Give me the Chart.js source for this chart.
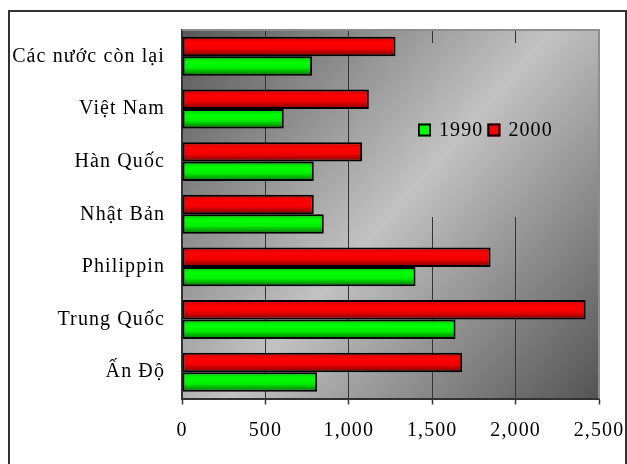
<!DOCTYPE html>
<html>
<head>
<meta charset="utf-8">
<script src="https://cdn.jsdelivr.net/npm/chart.js@4.4.1/dist/chart.umd.min.js"></script>
<style>
  html, body { margin: 0; padding: 0; background: #ffffff; }
  #wrap { width: 627px; height: 464px; position: relative; }
</style>
</head>
<body>
<div id="wrap"><canvas id="c" width="627" height="464"></canvas></div>
<script>
// Countries, listed from the top row to the bottom row
const categories = ['Các nước còn lại', 'Việt Nam', 'Hàn Quốc', 'Nhật Bản', 'Philippin', 'Trung Quốc', 'Ấn Độ'];
const values1990 = [780, 610, 790, 850, 1400, 1640, 810];
const values2000 = [1280, 1120, 1080, 790, 1850, 2420, 1680];
const seriesNames = ['1990', '2000'];
const xTicks = [0, 500, 1000, 1500, 2000, 2500];

const FONT = "'Liberation Serif', 'Times New Roman', serif";
const CAT_PCT = 0.74;

const RED_STOPS = [[0, '#c80000'], [0.3, '#ff0000'], [0.6, '#f40000'], [1, '#7a0000']];
const GREEN_STOPS = [[0, '#00c000'], [0.3, '#00ff00'], [0.6, '#00f000'], [1, '#006a00']];

// Vertical shading for each bar, aligned to that bar's own band
function barFill(stops) {
  return (c) => {
    const chart = c.chart;
    if (!chart.chartArea || c.type !== 'data') return stops[1][1];
    const y = chart.scales.y;
    const slot = (y.bottom - y.top) / categories.length;
    const band = slot * CAT_PCT;
    const barH = band / chart.data.datasets.length;
    const top = y.getPixelForValue(c.dataIndex) - band / 2 + c.datasetIndex * barH;
    const g = chart.ctx.createLinearGradient(0, top, 0, top + barH);
    stops.forEach(([o, col]) => g.addColorStop(o, col));
    return g;
  };
}

function plotGradient(ctx, a) {
  const g = ctx.createLinearGradient(a.left, a.top, a.right, a.bottom);
  g.addColorStop(0, '#575757');
  g.addColorStop(0.5, '#c2c2c2');
  g.addColorStop(1, '#545454');
  return g;
}

// Legend panel sits inside the plot, its fill hiding the grid lines behind it
const LEGEND_BOX = { x: 395, y: 43, w: 190, h: 174 };

const decor = {
  id: 'decor',
  beforeLayout(chart) { chart.ctx.letterSpacing = '1.1px'; },
  beforeDraw(chart) {
    const { ctx, chartArea: a } = chart;
    ctx.save();
    ctx.fillStyle = '#ffffff';
    ctx.fillRect(0, 0, chart.width, chart.height);
    ctx.fillStyle = plotGradient(ctx, a);
    ctx.fillRect(a.left, a.top, a.right - a.left, a.bottom - a.top);
    ctx.restore();
    ctx.letterSpacing = '1.1px';
  },
  beforeDatasetsDraw(chart) {
    const { ctx, chartArea: a } = chart;
    ctx.save();
    ctx.fillStyle = plotGradient(ctx, a);
    ctx.fillRect(LEGEND_BOX.x, LEGEND_BOX.y, LEGEND_BOX.w, LEGEND_BOX.h);
    ctx.strokeStyle = '#8e8e8e';
    ctx.lineWidth = 2;
    ctx.beginPath();
    ctx.moveTo(a.left, a.top);
    ctx.lineTo(a.right, a.top);
    ctx.lineTo(a.right, a.bottom);
    ctx.stroke();
    ctx.restore();
  },
  afterDraw(chart) {
    const ctx = chart.ctx;
    ctx.save();
    // outer frame
    ctx.strokeStyle = '#333333';
    ctx.lineWidth = 2;
    ctx.strokeRect(9, 11, 617, 500);
    // legend entries, 1990 first
    ctx.font = '20px ' + FONT;
    ctx.textBaseline = 'middle';
    ctx.textAlign = 'left';
    const order = [1, 0];
    let x = 418;
    const cy = 130;
    order.forEach((di) => {
      const ds = chart.data.datasets[di];
      ctx.fillStyle = ds.legendColor;
      ctx.fillRect(x, cy - 6.5, 13, 13);
      ctx.strokeStyle = '#000000';
      ctx.lineWidth = 2;
      ctx.strokeRect(x + 1, cy - 5.5, 11, 11);
      ctx.fillStyle = '#000000';
      ctx.fillText(ds.label, x + 21, cy + 1);
      x += 21 + ctx.measureText(ds.label).width + 4;
    });
    ctx.restore();
  }
};

new Chart(document.getElementById('c'), {
  type: 'bar',
  data: {
    labels: categories,
    datasets: [
      {
        label: seriesNames[1],
        data: values2000,
        legendColor: '#ff0000',
        backgroundColor: barFill(RED_STOPS),
        borderColor: '#000000',
        borderWidth: 2,
        borderSkipped: false
      },
      {
        label: seriesNames[0],
        data: values1990,
        legendColor: '#00ff00',
        backgroundColor: barFill(GREEN_STOPS),
        borderColor: '#000000',
        borderWidth: 2,
        borderSkipped: false
      }
    ]
  },
  options: {
    indexAxis: 'y',
    responsive: false,
    animation: false,
    devicePixelRatio: 1,
    categoryPercentage: CAT_PCT,
    barPercentage: 1,
    layout: { padding: { left: 0, top: 30, right: 28, bottom: 0 } },
    plugins: {
      legend: { display: false },
      tooltip: { enabled: false },
      title: { display: false }
    },
    scales: {
      x: {
        min: xTicks[0],
        max: xTicks[xTicks.length - 1],
        afterBuildTicks(scale) { scale.ticks = xTicks.map(v => ({ value: v })); },
        afterFit(scale) {
          scale.height = 65.5;
          scale.paddingLeft = 0;
          scale.paddingRight = 0;
        },
        ticks: {
          color: '#000000',
          font: { family: FONT, size: 20 },
          padding: 14,
          maxRotation: 0,
          callback: (v) => Number(v).toLocaleString('en-US')
        },
        grid: {
          color: (c) => (c.tick && c.tick.value === xTicks[xTicks.length - 1]) ? 'rgba(0,0,0,0)' : '#333333',
          lineWidth: 1,
          tickLength: 6,
          tickColor: '#333333',
          tickWidth: 1.5
        },
        border: { display: true, color: '#333333', width: 2 }
      },
      y: {
        afterFit(scale) {
          scale.width = 182;
          scale.paddingTop = 0;
          scale.paddingBottom = 0;
        },
        ticks: {
          color: '#000000',
          font: { family: FONT, size: 20 },
          padding: 17
        },
        grid: { display: false, drawTicks: false },
        border: { display: true, color: '#333333', width: 1.5 }
      }
    }
  },
  plugins: [decor]
});
</script>
</body>
</html>
